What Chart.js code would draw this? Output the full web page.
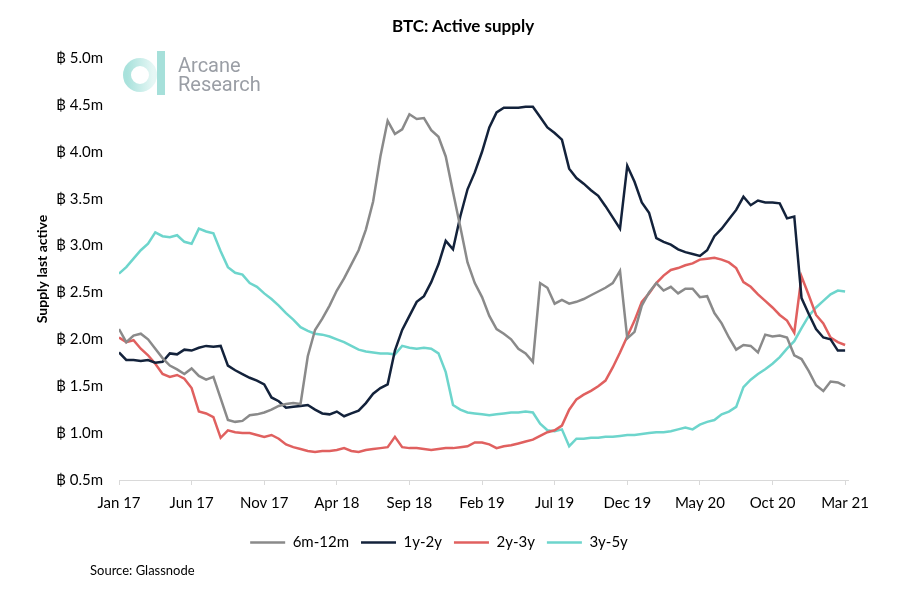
<!DOCTYPE html>
<html>
<head>
<meta charset="utf-8">
<script src="https://cdn.jsdelivr.net/npm/chart.js@4.4.0/dist/chart.umd.min.js"></script>
<style>
body{margin:0;background:#fff;font-family:Lato,"Noto Sans",sans-serif;}
#wrap{position:relative;width:900px;height:602px;}
#title{position:absolute;left:463px;top:15px;transform:translateX(-50%);font-weight:700;font-size:17px;color:#000;white-space:nowrap;}
#source{position:absolute;left:90px;top:562px;font-size:13px;color:#000;}
#logo{position:absolute;left:0;top:0;}
</style>
</head>
<body>
<div id="wrap">
<canvas id="chart" width="900" height="602"></canvas>
<div id="title">BTC: Active supply</div>
<div id="source">Source: Glassnode</div>
<svg id="logo" width="300" height="110">
  <defs>
    <linearGradient id="ring" x1="0" x2="1" y1="0" y2="0">
      <stop offset="0" stop-color="#a9e2dc"/>
      <stop offset="1" stop-color="#e6f7f5"/>
    </linearGradient>
  </defs>
  <circle cx="140" cy="75" r="13" fill="none" stroke="url(#ring)" stroke-width="8"/>
  <rect x="157" y="51" width="8" height="44" fill="#a6e0da"/>
  <text x="178" y="72" font-family="Roboto" font-size="20" fill="#9a9ea5">Arcane</text>
  <text x="178" y="91" font-family="Roboto" font-size="20" fill="#9a9ea5">Research</text>
</svg>
</div>
<script>
// x positions: half-month steps from Jan 2017
const halfMonths = Array.from({length:101},(_,i)=>i/2)
const tickLabels = ["Jan 17","Jun 17","Nov 17","Apr 18","Sep 18","Feb 19","Jul 19","Dec 19","May 20","Oct 20","Mar 21"]

const s6m12m = [2.11,1.97,2.04,2.06,2.00,1.90,1.80,1.72,1.68,1.63,
 1.69,1.61,1.57,1.60,1.37,1.14,1.12,1.13,1.19,1.20,
 1.22,1.25,1.29,1.31,1.32,1.31,1.82,2.10,2.22,2.36,
 2.52,2.65,2.80,2.95,3.17,3.47,3.95,4.33,4.19,4.24,
 4.40,4.35,4.36,4.23,4.16,3.95,3.57,3.20,2.82,2.60,
 2.45,2.25,2.11,2.06,2.00,1.90,1.85,1.76,2.60,2.55,
 2.38,2.42,2.38,2.40,2.43,2.47,2.51,2.55,2.60,2.73,
 2.01,2.08,2.36,2.50,2.60,2.52,2.56,2.49,2.54,2.54,
 2.45,2.46,2.28,2.17,2.02,1.89,1.94,1.93,1.86,2.05,
 2.03,2.04,2.02,1.83,1.79,1.66,1.51,1.45,1.55,1.54,1.50]

const s1y2y = [1.86,1.78,1.78,1.77,1.78,1.75,1.76,1.85,1.84,1.89,
 1.88,1.91,1.93,1.92,1.93,1.72,1.67,1.63,1.59,1.56,
 1.52,1.38,1.34,1.27,1.28,1.29,1.30,1.25,1.21,1.20,
 1.23,1.18,1.21,1.24,1.32,1.42,1.48,1.52,1.88,2.10,
 2.25,2.40,2.46,2.61,2.80,3.05,2.96,3.31,3.60,3.78,
 4.00,4.26,4.42,4.47,4.47,4.47,4.48,4.48,4.37,4.26,
 4.20,4.13,3.82,3.72,3.66,3.59,3.53,3.42,3.30,3.18,
 3.85,3.68,3.46,3.35,3.08,3.04,3.01,2.96,2.93,2.91,
 2.89,2.95,3.10,3.18,3.28,3.38,3.52,3.43,3.48,3.46,
 3.46,3.45,3.29,3.31,2.44,2.27,2.11,2.02,2.00,1.88,1.88]

const s2y3y = [2.02,1.97,1.99,1.90,1.83,1.74,1.63,1.60,1.62,1.58,
 1.48,1.23,1.21,1.17,0.95,1.03,1.01,1.00,1.00,0.98,
 0.96,0.98,0.94,0.88,0.85,0.83,0.81,0.80,0.81,0.81,
 0.82,0.84,0.81,0.80,0.82,0.83,0.84,0.85,0.96,0.85,
 0.84,0.84,0.83,0.82,0.83,0.84,0.84,0.85,0.86,0.90,
 0.90,0.88,0.84,0.86,0.87,0.89,0.91,0.93,0.97,1.01,
 1.03,1.08,1.25,1.36,1.41,1.45,1.50,1.56,1.70,1.86,
 2.03,2.20,2.40,2.49,2.60,2.68,2.74,2.76,2.79,2.81,
 2.85,2.86,2.87,2.85,2.82,2.76,2.61,2.56,2.48,2.41,
 2.34,2.26,2.20,2.07,2.67,2.47,2.26,2.17,2.02,1.97,1.94]

const s3y5y = [2.70,2.77,2.86,2.95,3.02,3.14,3.10,3.09,3.11,3.04,
 3.02,3.18,3.15,3.13,2.94,2.77,2.71,2.69,2.60,2.56,
 2.49,2.43,2.36,2.28,2.21,2.13,2.09,2.06,2.05,2.03,
 2.00,1.97,1.93,1.89,1.87,1.86,1.85,1.85,1.84,1.93,
 1.91,1.90,1.91,1.90,1.85,1.65,1.30,1.25,1.22,1.21,
 1.20,1.19,1.20,1.21,1.22,1.22,1.23,1.22,1.10,1.03,
 1.02,1.04,0.86,0.94,0.94,0.95,0.95,0.96,0.96,0.97,
 0.98,0.98,0.99,1.00,1.01,1.01,1.02,1.04,1.06,1.04,
 1.09,1.12,1.14,1.20,1.23,1.28,1.49,1.57,1.63,1.68,
 1.74,1.81,1.90,1.98,2.12,2.25,2.34,2.41,2.48,2.52,2.51]

function pts(vals){
  return vals.map((v,i)=>({x:halfMonths[i],y:v}))
}

function line(label,vals,color){
  return {
    label:label,
    data:pts(vals),
    borderColor:color,
    backgroundColor:color,
    borderWidth:2.5,
    pointRadius:0,
    pointStyle:"line",
    tension:0
  }
}

const font = 'Lato, "Noto Sans", sans-serif'

new Chart(document.getElementById("chart"),{
  type:"line",
  data:{
    datasets:[
      line("6m-12m",s6m12m,"#8a8a8a"),
      line("1y-2y",s1y2y,"#13223b"),
      line("2y-3y",s2y3y,"#e0605f"),
      line("3y-5y",s3y5y,"#6dd5cc")
    ]
  },
  options:{
    responsive:false,
    animation:false,
    layout:{padding:{left:30,top:58,right:52,bottom:42}},
    plugins:{
      legend:{
        position:"bottom",
        labels:{
          usePointStyle:true,
          pointStyleWidth:35,
          padding:12,
          color:"#000",
          font:{family:font,size:15}
        }
      },
      tooltip:{enabled:false}
    },
    scales:{
      x:{
        type:"linear",
        min:0,
        max:50.2,
        afterFit:s=>{s.height=43},
        grid:{drawOnChartArea:false,drawTicks:true,tickLength:5,color:"#d9d9d9"},
        border:{display:true,color:"#d9d9d9"},
        ticks:{
          stepSize:5,
          includeBounds:false,
          maxRotation:0,
          autoSkip:false,
          padding:9,
          color:"#000",
          font:{family:font,size:15},
          callback:v=>tickLabels[Math.round(v/5)]
        }
      },
      y:{
        min:0.5,
        max:5.0,
        afterFit:s=>{s.width=89},
        grid:{display:false,drawTicks:false},
        border:{display:false},
        title:{display:true,text:"Supply last active",color:"#000",font:{family:font,size:14,weight:"bold"}},
        ticks:{
          stepSize:0.5,
          padding:16,
          color:"#000",
          font:{family:font,size:15},
          callback:v=>"฿ "+v.toFixed(1)+"m"
        }
      }
    }
  }
})
</script>
</body>
</html>
